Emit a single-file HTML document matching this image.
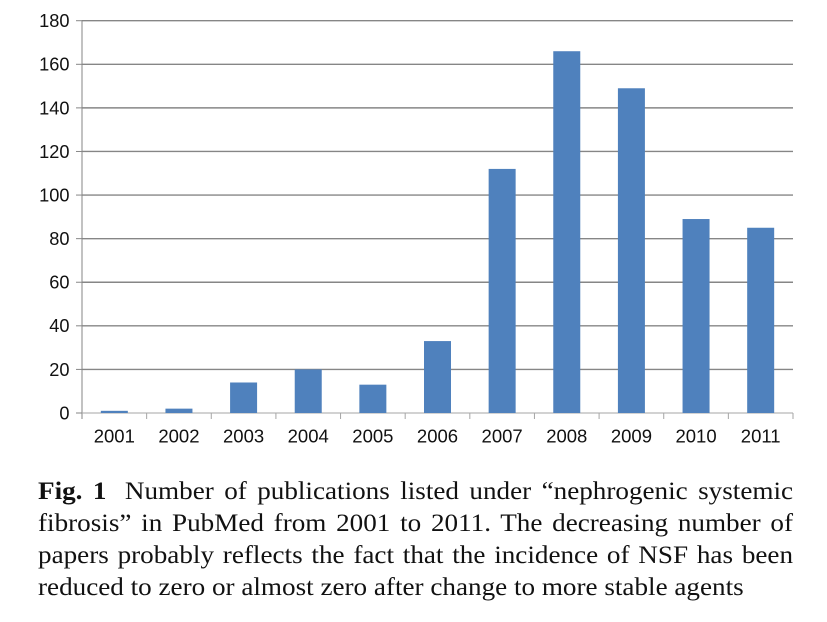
<!DOCTYPE html>
<html>
<head>
<meta charset="utf-8">
<style>
html,body{margin:0;padding:0;background:#fff;}
body{position:relative;width:827px;height:622px;overflow:hidden;}
svg{display:block;position:absolute;left:0;top:0;}
.cap{position:absolute;left:38px;width:695.9px;font-family:"Liberation Serif","Times New Roman",serif;font-size:25px;line-height:32px;color:#111;white-space:normal;transform:scaleX(1.085);transform-origin:0 0;}
.j{text-align:justify;text-align-last:justify;}
.sp{display:inline-block;width:17px;}
</style>
</head>
<body>
<svg width="827" height="622" viewBox="0 0 827 622" xmlns="http://www.w3.org/2000/svg">
<rect width="827" height="622" fill="#fff"/>
<g stroke="#868686" stroke-width="1.4">
<line x1="82" y1="369.41" x2="793" y2="369.41"/>
<line x1="82" y1="325.82" x2="793" y2="325.82"/>
<line x1="82" y1="282.24" x2="793" y2="282.24"/>
<line x1="82" y1="238.65" x2="793" y2="238.65"/>
<line x1="82" y1="195.06" x2="793" y2="195.06"/>
<line x1="82" y1="151.47" x2="793" y2="151.47"/>
<line x1="82" y1="107.88" x2="793" y2="107.88"/>
<line x1="82" y1="64.30" x2="793" y2="64.30"/>
<line x1="82" y1="20.71" x2="793" y2="20.71"/>
</g>
<g stroke="#868686" stroke-width="1">
<line x1="76" y1="413" x2="82" y2="413"/>
<line x1="76" y1="369.41" x2="82" y2="369.41"/>
<line x1="76" y1="325.82" x2="82" y2="325.82"/>
<line x1="76" y1="282.24" x2="82" y2="282.24"/>
<line x1="76" y1="238.65" x2="82" y2="238.65"/>
<line x1="76" y1="195.06" x2="82" y2="195.06"/>
<line x1="76" y1="151.47" x2="82" y2="151.47"/>
<line x1="76" y1="107.88" x2="82" y2="107.88"/>
<line x1="76" y1="64.30" x2="82" y2="64.30"/>
<line x1="76" y1="20.71" x2="82" y2="20.71"/>
<line x1="82" y1="20.2" x2="82" y2="419"/>
</g>
<g stroke="#a6a6a6" stroke-width="1">
<line x1="82" y1="413" x2="793" y2="413"/>
<line x1="146.64" y1="413" x2="146.64" y2="419"/>
<line x1="211.27" y1="413" x2="211.27" y2="419"/>
<line x1="275.91" y1="413" x2="275.91" y2="419"/>
<line x1="340.55" y1="413" x2="340.55" y2="419"/>
<line x1="405.18" y1="413" x2="405.18" y2="419"/>
<line x1="469.82" y1="413" x2="469.82" y2="419"/>
<line x1="534.45" y1="413" x2="534.45" y2="419"/>
<line x1="599.09" y1="413" x2="599.09" y2="419"/>
<line x1="663.73" y1="413" x2="663.73" y2="419"/>
<line x1="728.36" y1="413" x2="728.36" y2="419"/>
<line x1="793" y1="413" x2="793" y2="419"/>
</g>
<g fill="#4F81BD">
<rect x="100.82" y="410.82" width="27" height="2.18"/>
<rect x="165.45" y="408.64" width="27" height="4.36"/>
<rect x="230.09" y="382.49" width="27" height="30.51"/>
<rect x="294.73" y="369.41" width="27" height="43.59"/>
<rect x="359.36" y="384.67" width="27" height="28.33"/>
<rect x="424.0" y="341.08" width="27" height="71.92"/>
<rect x="488.64" y="168.91" width="27" height="244.09"/>
<rect x="553.27" y="51.22" width="27" height="361.78"/>
<rect x="617.91" y="88.27" width="27" height="324.73"/>
<rect x="682.55" y="219.03" width="27" height="193.97"/>
<rect x="747.18" y="227.75" width="27" height="185.25"/>
</g>
<g font-family="Liberation Sans, Arial, sans-serif" font-size="18.2" fill="#111" text-anchor="end">
<text x="69.5" y="419.4">0</text>
<text x="69.5" y="375.8">20</text>
<text x="69.5" y="332.2">40</text>
<text x="69.5" y="288.6">60</text>
<text x="69.5" y="245.0">80</text>
<text x="69.5" y="201.5">100</text>
<text x="69.5" y="157.9">120</text>
<text x="69.5" y="114.3">140</text>
<text x="69.5" y="70.7">160</text>
<text x="69.5" y="27.1">180</text>
</g>
<g font-family="Liberation Sans, Arial, sans-serif" font-size="18.5" fill="#111" text-anchor="middle">
<text x="114.32" y="442.5">2001</text>
<text x="178.95" y="442.5">2002</text>
<text x="243.59" y="442.5">2003</text>
<text x="308.23" y="442.5">2004</text>
<text x="372.86" y="442.5">2005</text>
<text x="437.5" y="442.5">2006</text>
<text x="502.14" y="442.5">2007</text>
<text x="566.77" y="442.5">2008</text>
<text x="631.41" y="442.5">2009</text>
<text x="696.05" y="442.5">2010</text>
<text x="760.68" y="442.5">2011</text>
</g>
</svg>
<div class="cap j" style="top:476.1px;"><b>Fig.&nbsp;1</b><span class="sp"></span>Number of publications listed under “nephrogenic systemic</div>
<div class="cap j" style="top:507.9px;">fibrosis” in PubMed from 2001 to 2011. The decreasing number of</div>
<div class="cap j" style="top:539.8px;">papers probably reflects the fact that the incidence of NSF has been</div>
<div class="cap" style="top:571.6px;">reduced to zero or almost zero after change to more stable agents</div>
</body>
</html>
